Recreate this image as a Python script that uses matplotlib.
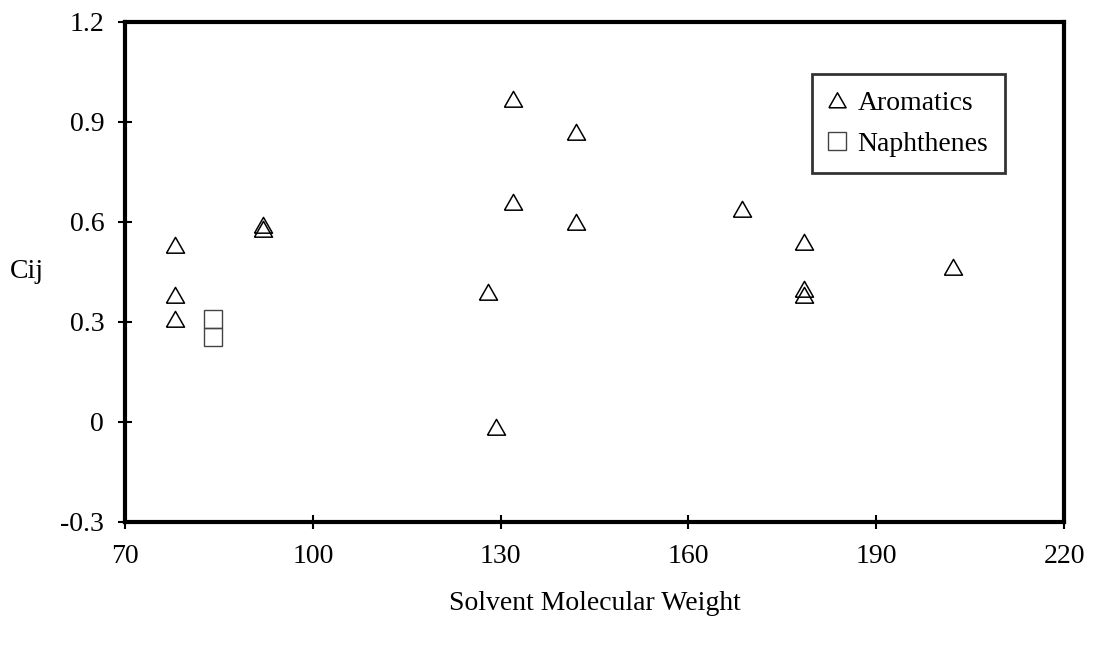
import matplotlib.pyplot as plt

plt.rcParams['font.family'] = ['Liberation Serif', 'DejaVu Serif']

# aromatic solvents: molecular weight vs Cij
arom_mw = [78, 78, 78, 92, 92, 128, 129.3, 132, 132, 142, 142, 168.5, 178.5, 178.5, 178.5, 202.3]
arom_c = [0.53, 0.38, 0.31, 0.59, 0.58, 0.39, -0.015, 0.97, 0.66, 0.87, 0.60, 0.64, 0.54, 0.40, 0.38, 0.465]

# naphthenic solvents
naph_mw = [84, 84]
naph_c = [0.31, 0.255]

x_ticks = [70, 100, 130, 160, 190, 220]
y_ticks = [-0.3, 0, 0.3, 0.6, 0.9, 1.2]
y_labels = ["-0.3", "0", "0.3", "0.6", "0.9", "1.2"]

tri = [(-1, -0.85), (1, -0.85), (0, 0.9), (-1, -0.85)]

fig = plt.figure(figsize=(10.93, 6.45), dpi=100)
ax = fig.add_axes([0.1144, 0.1907, 0.8591, 0.7752])

ax.plot(arom_mw, arom_c, linestyle="none", marker=tri, markersize=13,
        markerfacecolor="none", markeredgecolor="black", markeredgewidth=1.1,
        label="Aromatics")
ax.plot(naph_mw, naph_c, linestyle="none", marker="s", markersize=13,
        markerfacecolor="none", markeredgecolor="#444444", markeredgewidth=1.0,
        label="Naphthenes")

ax.set_xlim(70, 220)
ax.set_ylim(-0.3, 1.2)
ax.set_xticks(x_ticks)
ax.set_yticks(y_ticks)
ax.set_yticklabels(y_labels)
ax.tick_params(direction="inout", length=10, width=1.5, labelsize=20, pad=10,
               top=False, right=False)
ax.tick_params(axis="x", pad=11)

for side in ["left", "bottom", "top", "right"]:
    ax.spines[side].set_linewidth(3)

ax.set_xlabel("Solvent Molecular Weight", fontsize=20, labelpad=16)
ax.set_ylabel("Cij", fontsize=20, rotation=0, labelpad=24, va="center")

leg = ax.legend(loc="upper right", bbox_to_anchor=(0.937, 0.896), borderaxespad=0,
                fontsize=20, frameon=True, fancybox=False, edgecolor="black",
                handlelength=0.6, handletextpad=0.45, borderpad=0.6,
                labelspacing=0.55, markerscale=0.95)
leg.get_frame().set_linewidth(2)

fig.savefig("out.png", dpi=100)
